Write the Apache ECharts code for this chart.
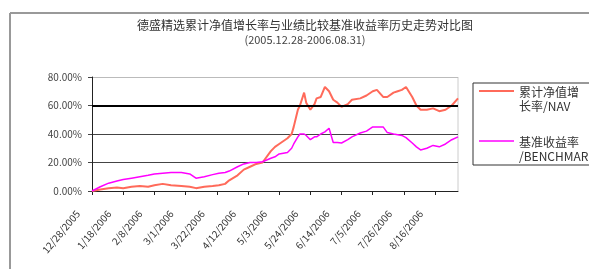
<!DOCTYPE html>
<html>
<head>
<meta charset="utf-8">
<script src="https://cdn.jsdelivr.net/npm/echarts@6/dist/echarts.min.js"></script>
<style>
  html, body { margin: 0; padding: 0; background: #fff; }
  #chart { width: 589px; height: 269px; }
</style>
</head>
<body>
<div id="chart"></div>
<script>
// trading-day index since 12/28/2005
const dayIdx = [0, 4, 8, 12, 15, 19, 23, 27, 30, 34, 38, 43, 47, 50, 54, 58, 61, 64, 66, 70, 73, 76, 79, 82, 86, 88, 90, 94, 96, 97, 99, 100, 102, 103, 105, 107, 108, 110, 112, 114, 116, 118, 120, 123, 125, 129, 132, 135, 137, 140, 142, 145, 147, 149, 151, 154, 156, 158, 161, 164, 167, 170, 173, 176]
const navVals = [0, 1, 2, 2.5, 2, 3, 3.5, 3, 4, 5, 4, 3.5, 3, 2, 3, 3.5, 4, 5, 7.5, 11, 15, 17, 19, 20, 28, 31, 33, 37, 40, 45, 57, 60, 69, 62, 57, 61, 65, 66, 73, 70, 64, 62, 59, 61, 64, 65, 67, 70, 71, 66, 66, 69, 70, 71, 73, 66, 60, 57, 57, 58, 56, 57, 60, 65]
const benchVals = [0, 3, 5.5, 7, 8, 9, 10, 11, 12, 12.5, 13, 13, 12, 9, 10, 11.5, 12.5, 13, 14, 17, 19, 20, 20, 20.5, 23, 24, 26, 27, 30, 33, 38, 40, 40, 39, 36, 38, 38, 40, 41.5, 44, 34, 34, 33.7, 36, 38, 40.7, 42, 45, 45, 45, 41, 40, 39.5, 39, 37.5, 33.7, 31, 28.8, 30, 32, 31, 33, 36, 38]
const tickLabels = ['12/28/2005', '1/18/2006', '2/8/2006', '3/1/2006', '3/22/2006', '4/12/2006', '5/3/2006', '5/24/2006', '6/14/2006', '7/5/2006', '7/26/2006', '8/16/2006']
const seriesNames = ['累计净值增长率/NAV', '基准收益率/BENCHMARK']

const chart = echarts.init(document.getElementById('chart'))
const font = 'SimSun, "Noto Sans CJK SC", sans-serif'

const option = {
  animation: false,
  textStyle: { fontFamily: font },
  title: {
    text: '德盛精选累计净值增长率与业绩比较基准收益率历史走势对比图',
    subtext: '(2005.12.28-2006.08.31)',
    left: 300,
    textAlign: 'center',
    top: 14,
    itemGap: 3,
    textStyle: { fontSize: 12, fontWeight: 'normal', color: '#333', fontFamily: font },
    subtextStyle: { fontSize: 11, color: '#444', fontFamily: font }
  },
  grid: { left: 92, right: 131, top: 77, bottom: 78 },
  xAxis: {
    type: 'value',
    min: 0,
    max: 176,
    interval: 15,
    axisLine: { lineStyle: { color: '#222', width: 1 } },
    axisTick: { show: true, length: 4, lineStyle: { color: '#222' } },
    splitLine: { show: false },
    axisLabel: {
      rotate: 50,
      fontSize: 10,
      color: '#333',
      margin: 4,
      padding: [0, 22, 0, 0],
      showMaxLabel: false,
      formatter: v => tickLabels[Math.round(v / 15)] || ''
    }
  },
  yAxis: {
    type: 'value',
    min: 0,
    max: 80,
    interval: 20,
    axisLine: { show: true, lineStyle: { color: '#222' } },
    axisTick: { show: true, length: 4, lineStyle: { color: '#444' } },
    splitLine: { lineStyle: { color: ['#444', '#444', '#444', '#444', '#bbb'], width: 1 } },
    axisLabel: {
      fontSize: 10,
      color: '#444',
      margin: 10,
      formatter: v => v.toFixed(2) + '%'
    }
  },
  series: [
    {
      name: seriesNames[0],
      type: 'line',
      data: dayIdx.map((d, i) => [d, navVals[i]]),
      showSymbol: false,
      lineStyle: { color: '#ff6a5a', width: 2 },
      itemStyle: { color: '#ff6a5a' },
      z: 3,
      markLine: {
        silent: true,
        symbol: 'none',
        label: { show: false },
        lineStyle: { color: '#000', width: 2, type: 'solid' },
        data: [{ yAxis: 60 }]
      }
    },
    {
      name: seriesNames[1],
      type: 'line',
      data: dayIdx.map((d, i) => [d, benchVals[i]]),
      showSymbol: false,
      lineStyle: { color: '#ff00ff', width: 1.5 },
      itemStyle: { color: '#ff00ff' },
      z: 4
    }
  ],
  graphic: [
    // outer frame
    { type: 'line', shape: { x1: 10, y1: 13, x2: 589, y2: 13 }, style: { stroke: '#999', lineWidth: 2 } },
    { type: 'line', shape: { x1: 10, y1: 13, x2: 10, y2: 269 }, style: { stroke: '#999', lineWidth: 2 } },
    // plot right border
    { type: 'line', shape: { x1: 458, y1: 77, x2: 458, y2: 191 }, style: { stroke: '#ccc', lineWidth: 1 } },
    // legend box
    { type: 'rect', shape: { x: 473, y: 83, width: 130, height: 82 }, style: { fill: '#fff', stroke: '#333', lineWidth: 1 } },
    { type: 'line', shape: { x1: 479, y1: 91, x2: 514, y2: 91 }, style: { stroke: '#ff6a5a', lineWidth: 2 } },
    { type: 'line', shape: { x1: 479, y1: 141, x2: 514, y2: 141 }, style: { stroke: '#ff00ff', lineWidth: 1.5 } },
    { type: 'text', left: 519, top: 85, style: { text: '累计净值增\n长率/NAV', font: '12px ' + font, fill: '#333', lineHeight: 14 } },
    { type: 'text', left: 519, top: 135, style: { text: '基准收益率\n/BENCHMARK', font: '12px ' + font, fill: '#333', lineHeight: 14 } }
  ]
}
chart.setOption(option)
</script>
</body>
</html>
